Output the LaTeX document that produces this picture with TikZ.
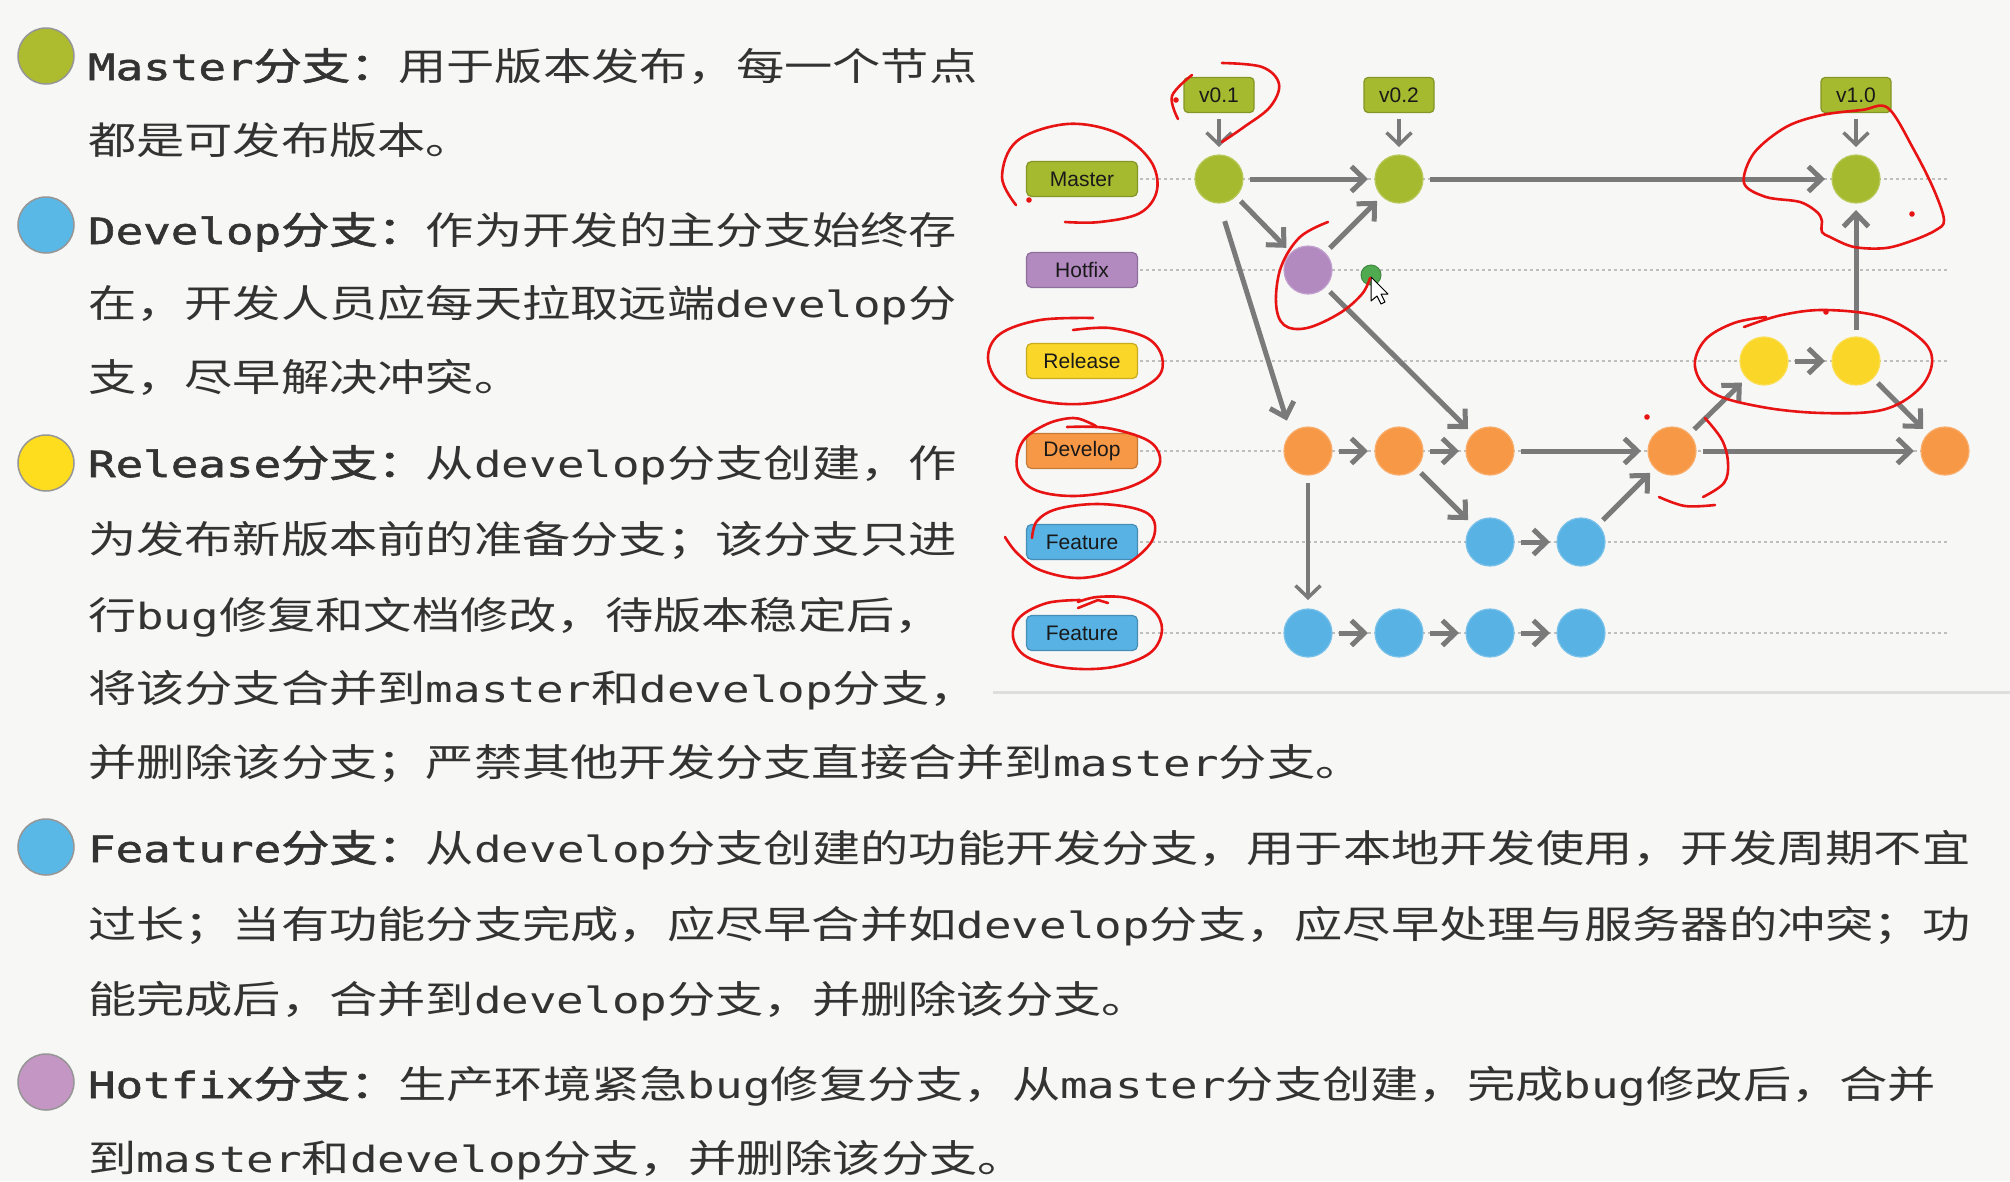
\documentclass[tikz,border=0pt]{standalone}
\usepackage{fontspec}
\setmainfont{Liberation Sans}
\newfontfamily\cjk[FakeStretch=1.27, BoldFont={Noto Sans CJK SC}, BoldFeatures={FakeBold=1.6}]{Noto Sans CJK SC}
\newfontfamily\mono[FakeStretch=1.27, Scale=0.95, BoldFont={DejaVu Sans Mono}, BoldFeatures={FakeBold=1.6}]{DejaVu Sans Mono}
\usetikzlibrary{arrows.meta,calc}
\definecolor{bg}{RGB}{247,247,246}
\definecolor{ink}{RGB}{51,51,51}
\definecolor{mgreen}{RGB}{166,186,48}
\definecolor{hpurple}{RGB}{178,138,192}
\definecolor{ryellow}{RGB}{250,214,40}
\definecolor{dorange}{RGB}{247,152,70}
\definecolor{fblue}{RGB}{88,178,228}
\definecolor{bmaster}{RGB}{173,187,46}
\definecolor{bblue}{RGB}{90,184,230}
\definecolor{byellow}{RGB}{254,220,30}
\definecolor{bpurple}{RGB}{195,150,195}
\definecolor{bedge}{RGB}{150,150,150}
\definecolor{arrowgray}{RGB}{122,122,122}
\definecolor{rowgray}{RGB}{190,190,190}
\definecolor{sepgray}{RGB}{222,222,222}
\definecolor{pen}{RGB}{232,20,20}
\definecolor{laser}{RGB}{80,170,80}
\newcommand\lat[1]{{\mono #1}}
\begin{document}
\begin{tikzpicture}[x=1pt,y=-1pt,
  txt/.style={anchor=base west, inner sep=0, outer sep=0, text=ink,
    font=\cjk\fontsize{38}{40}\selectfont},
  bullet/.style={circle, minimum size=56pt, inner sep=0, draw=bedge,
    line width=1.5pt, fill=#1},
  commit/.style={circle, minimum size=48pt, inner sep=0, outer sep=0,
    fill=#1, draw=#1!80!white, line width=1.2pt},
  branch/.style={rounded corners=5pt, minimum width=111pt, minimum height=35pt,
    inner sep=0, outer sep=0, fill=#1, draw=#1!80!black, line width=1.2pt,
    font=\fontsize{21}{21}\selectfont, text={rgb,255:red,25;green,25;blue,25}},
  tag/.style={branch=mgreen, minimum width=70pt, rounded corners=4pt},
  flow/.style={draw=arrowgray, line width=5pt,
    -{Straight Barb[length=13pt,width=25pt]}, shorten >=7pt, shorten <=7pt},
  thinflow/.style={draw=arrowgray, line width=3.5pt,
    -{Straight Barb[length=12pt,width=25pt]}},
  rowline/.style={draw=rowgray, line width=1.5pt, dash pattern=on 3pt off 3pt},
  pen/.style={draw=pen, line width=2.6pt, line cap=round, line join=round},
]
% page
\fill[bg] (0,0) rectangle (2010,1181);
\useasboundingbox (0,0) rectangle (2010,1181);

% ---------- explanatory text ----------
\node[bullet=bmaster] (bM) at (46,56) {};
\node[txt] (tM1) at (88,80) {{\bfseries\lat{Master}分支：}用于版本发布，每一个节点};
\node[txt] (tM2) at (88,154) {都是可发布版本。};

\node[bullet=bblue] (bD) at (46,225) {};
\node[txt] (tD1) at (88,244) {{\bfseries\lat{Develop}分支：}作为开发的主分支始终存};
\node[txt] (tD2) at (88,317) {在，开发人员应每天拉取远端\lat{develop}分};
\node[txt] (tD3) at (88,391) {支，尽早解决冲突。};

\node[bullet=byellow] (bR) at (46,463) {};
\node[txt] (tR1) at (88,477) {{\bfseries\lat{Release}分支：}从\lat{develop}分支创建，作};
\node[txt] (tR2) at (88,553) {为发布新版本前的准备分支；该分支只进};
\node[txt] (tR3) at (88,629) {行\lat{bug}修复和文档修改，待版本稳定后，};
\node[txt] (tR4) at (88,702) {将该分支合并到\lat{master}和\lat{develop}分支，};
\node[txt] (tR5) at (88,776) {并删除该分支；严禁其他开发分支直接合并到\lat{master}分支。};

\node[bullet=bblue] (bF) at (46,847) {};
\node[txt] (tF1) at (88,862) {{\bfseries\lat{Feature}分支：}从\lat{develop}分支创建的功能开发分支，用于本地开发使用，开发周期不宜};
\node[txt] (tF2) at (88,938) {过长；当有功能分支完成，应尽早合并如\lat{develop}分支，应尽早处理与服务器的冲突；功};
\node[txt] (tF3) at (88,1013) {能完成后，合并到\lat{develop}分支，并删除该分支。};

\node[bullet=bpurple] (bH) at (46,1082) {};
\node[txt] (tH1) at (88,1098) {{\bfseries\lat{Hotfix}分支：}生产环境紧急\lat{bug}修复分支，从\lat{master}分支创建，完成\lat{bug}修改后，合并};
\node[txt] (tH2) at (88,1172) {到\lat{master}和\lat{develop}分支，并删除该分支。};

% ---------- branch diagram ----------
\def\yM{179}\def\yH{270}\def\yR{361}\def\yD{451}\def\yF{542}\def\yG{633}

% lane guides
\foreach \yy in {\yM,\yH,\yR,\yD,\yF,\yG}
  \draw[rowline] (1140,\yy) -- (1948,\yy);
\draw[sepgray, line width=3pt] (993,692) -- (2010,692);

% lane labels
\node[branch=mgreen]  (lM) at (1082,\yM) {Master};
\node[branch=hpurple] (lH) at (1082,\yH) {Hotfix};
\node[branch=ryellow] (lR) at (1082,\yR) {Release};
\node[branch=dorange] (lD) at (1082,\yD) {Develop};
\node[branch=fblue]   (lF) at (1082,\yF) {Feature};
\node[branch=fblue]   (lG) at (1082,\yG) {Feature};

% version tags
\node[tag] (v1) at (1219,95) {v0.1};
\node[tag] (v2) at (1399,95) {v0.2};
\node[tag] (v3) at (1856,95) {v1.0};

% commits
\node[commit=mgreen] (m0) at (1219,\yM) {};
\node[commit=mgreen] (m2) at (1399,\yM) {};
\node[commit=mgreen] (m7) at (1856,\yM) {};
\node[commit=hpurple] (h1) at (1308,\yH) {};
\node[commit=ryellow] (r6) at (1764,\yR) {};
\node[commit=ryellow] (r7) at (1856,\yR) {};
\node[commit=dorange] (d1) at (1308,\yD) {};
\node[commit=dorange] (d2) at (1399,\yD) {};
\node[commit=dorange] (d3) at (1490,\yD) {};
\node[commit=dorange] (d5) at (1672,\yD) {};
\node[commit=dorange] (d8) at (1945,\yD) {};
\node[commit=fblue] (f3) at (1490,\yF) {};
\node[commit=fblue] (f4) at (1581,\yF) {};
\node[commit=fblue] (g1) at (1308,\yG) {};
\node[commit=fblue] (g2) at (1399,\yG) {};
\node[commit=fblue] (g3) at (1490,\yG) {};
\node[commit=fblue] (g4) at (1581,\yG) {};

% tag pointers
\foreach \t/\c in {v1/m0,v2/m2,v3/m7}
  \draw[thinflow, shorten <=6pt, shorten >=8pt] (\t) -- (\c);

% history
\draw[flow] (m0) -- (m2);
\draw[flow] (m2) -- (m7);
\draw[flow] (m0) -- (h1);
\draw[flow] (h1) -- (m2);
\draw[flow, shorten <=19pt, shorten >=14pt] (m0.south) -- (d1.north west);
\draw[flow] (h1) -- (d3);
\draw[flow] (d1) -- (d2);
\draw[flow] (d2) -- (d3);
\draw[flow] (d3) -- (d5);
\draw[flow] (d5) -- (d8);
\draw[flow] (d2) -- (f3);
\draw[flow] (f3) -- (f4);
\draw[flow] (f4) -- (d5);
\draw[flow] (d5) -- (r6);
\draw[flow] (r6) -- (r7);
\draw[flow] (r7) -- (m7);
\draw[flow] (r7) -- (d8);
\draw[thinflow, shorten <=8pt, shorten >=9pt] (d1) -- (g1);
\draw[flow] (g1) -- (g2);
\draw[flow] (g2) -- (g3);
\draw[flow] (g3) -- (g4);

% pointer marker
\node[circle, minimum size=20pt, inner sep=0, fill=laser, draw=laser!80!black, line width=1pt] (dot) at (1371,275) {};
\coordinate (tip) at (1371,277);
\draw[black, fill=white, line width=1pt, line join=round, shift={(tip)}]
  (0,0) -- (0,24) -- (6,19) -- (10,27) -- (14,25) -- (10,17) -- (17,17) -- cycle;

% ---------- hand-drawn red marks ----------
% v0.1
\draw[pen] plot[smooth, tension=0.6] coordinates {(1192,75) (1172,96) (1178,119)};
\draw[pen] plot[smooth, tension=0.6] coordinates {(1222,63) (1262,67) (1279,84) (1270,107) (1244,127) (1222,142)};
\fill[pen] (1176,100) circle (1.8);
% Master label
\draw[pen] plot[smooth, tension=0.6] coordinates {(1016,205) (1002,177) (1017,141) (1067,124) (1117,133) (1150,160) (1157,190) (1140,213) (1100,222) (1065,222)};
\fill[pen] (1029,200) circle (1.8);
% hotfix commit
\draw[pen] plot[smooth, tension=0.6] coordinates {(1328,222) (1300,237) (1281,267) (1276,303) (1284,325) (1307,328) (1340,313) (1362,294) (1370,278)};
% Release label
\draw[pen] plot[smooth, tension=0.6] coordinates {(1093,318) (1040,320) (1000,334) (988,358) (1001,384) (1037,400) (1080,404) (1123,396) (1157,378) (1162,357) (1147,338) (1110,328) (1073,330)};
% Develop label
\draw[pen] plot[smooth, tension=0.6] coordinates {(1067,427) (1107,428) (1147,440) (1160,457) (1153,474) (1123,489) (1073,496) (1033,489) (1017,468) (1023,441) (1047,424) (1073,418) (1090,423) (1097,427)};
% Feature label
\draw[pen] plot[smooth, tension=0.6] coordinates {(1005,537) (1017,553) (1040,570) (1080,578) (1120,568) (1150,544) (1154,521) (1137,509) (1097,504) (1057,509) (1037,521) (1032,538)};
% second Feature label
\draw[pen] plot[smooth, tension=0.6] coordinates {(1080,600) (1047,603) (1020,617) (1013,637) (1027,657) (1067,668) (1113,667) (1150,653) (1162,630) (1153,610) (1127,598) (1097,597) (1078,602)};
\draw[pen] (1078,608) -- (1098,600) -- (1108,603);
% v1.0 commit
\draw[pen] plot[smooth, tension=0.55] coordinates {(1822,222) (1818,213) (1800,202) (1766,197) (1744,183) (1754,153) (1786,127) (1822,115) (1862,110) (1888,108) (1914,150) (1934,190) (1944,220) (1936,230) (1914,240) (1886,248) (1854,247) (1830,237) (1822,232) (1822,222)};
\fill[pen] (1912,214) circle (1.8);
% release commits
\draw[pen] plot[smooth, tension=0.6] coordinates {(1744,327) (1782,315) (1826,310) (1882,317) (1922,340) (1932,363) (1918,390) (1882,410) (1822,413) (1762,407) (1713,393) (1695,367) (1705,340) (1734,323) (1766,317)};
\fill[pen] (1826,312) circle (1.8);
% merge commit on develop
\draw[pen] plot[smooth, tension=0.6] coordinates {(1705,418) (1722,440) (1728,463) (1724,483) (1703,497)};
\draw[pen] plot[smooth, tension=0.6] coordinates {(1659,497) (1685,506) (1715,505)};
\fill[pen] (1647,417) circle (1.8);
\end{tikzpicture}
\end{document}
